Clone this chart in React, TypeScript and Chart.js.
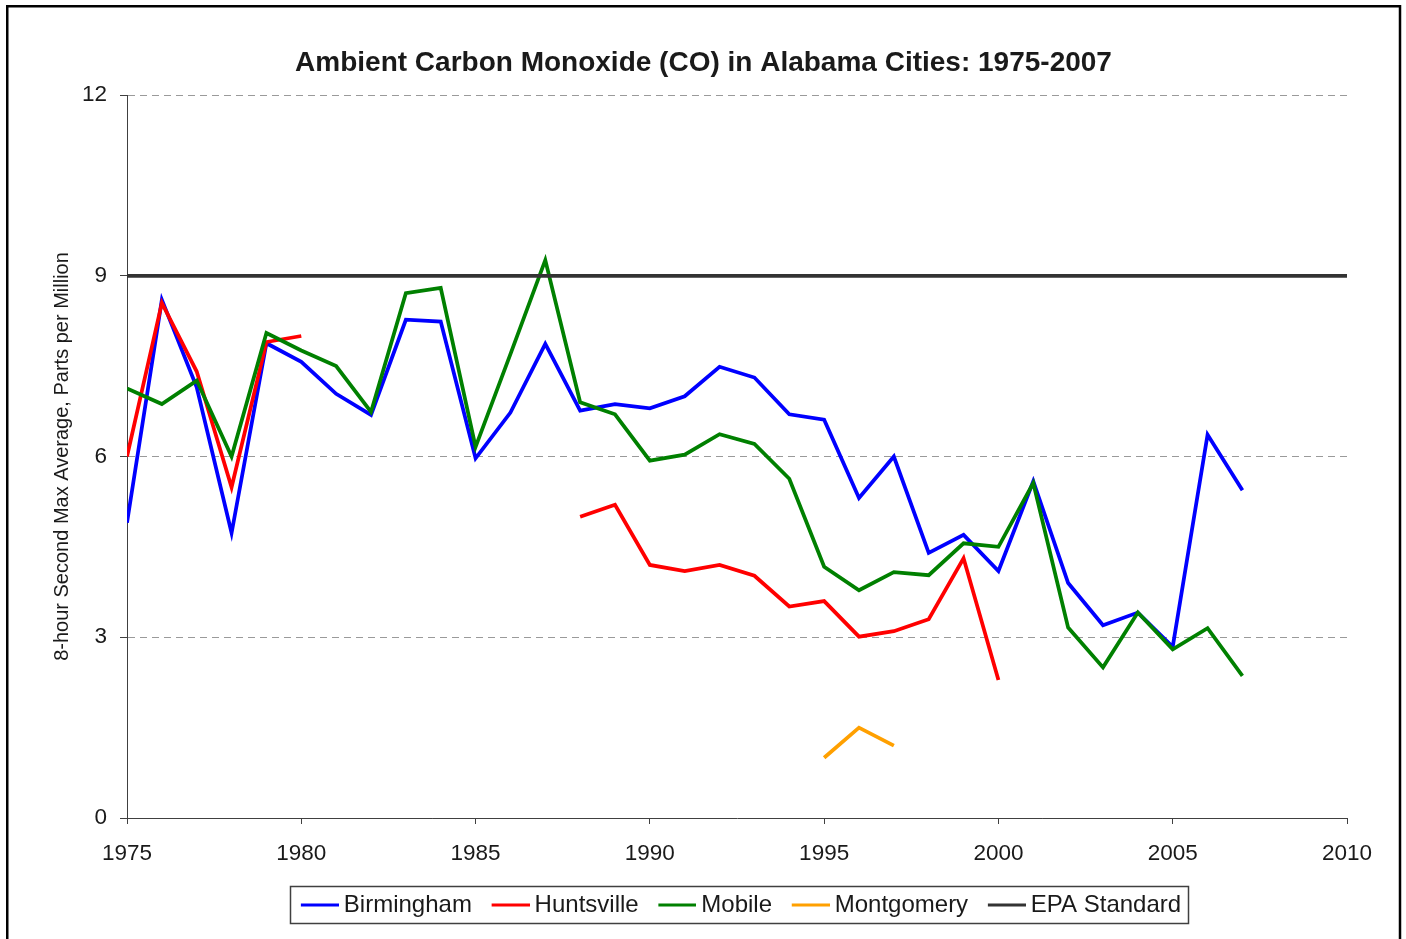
import React, { useEffect, useRef } from "react";
import { Chart, registerables } from "chart.js";

Chart.register(...registerables);

const FONT = "'Liberation Sans', Arial, sans-serif";

const chartTitle = "Ambient Carbon Monoxide (CO) in Alabama Cities: 1975-2007";
const yAxisTitle = "8-hour Second Max Average, Parts per Million";

const years = [
  1975, 1976, 1977, 1978, 1979, 1980, 1981, 1982, 1983, 1984, 1985,
  1986, 1987, 1988, 1989, 1990, 1991, 1992, 1993, 1994, 1995, 1996,
  1997, 1998, 1999, 2000, 2001, 2002, 2003, 2004, 2005, 2006, 2007,
];

const birmingham = [
  4.9, 8.6, 7.15, 4.73, 7.88, 7.57, 7.04, 6.69, 8.27, 8.24, 5.97,
  6.73, 7.87, 6.76, 6.87, 6.8, 7.0, 7.49, 7.31, 6.7, 6.61, 5.31,
  6.0, 4.4, 4.7, 4.1, 5.59, 3.9, 3.2, 3.41, 2.84, 6.36, 5.44,
];

const huntsville = [
  6.0, 8.55, 7.41, 5.49, 7.9, 8.0, null, null, null, null, null,
  null, null, 5.0, 5.2, 4.2, 4.1, 4.2, 4.02, 3.51, 3.6, 3.01,
  3.1, 3.3, 4.31, 2.29, null, null, null, null, null, null, null,
];

const mobile = [
  7.13, 6.87, 7.26, 6.0, 8.05, 7.76, 7.5, 6.74, 8.71, 8.8, 6.16,
  7.7, 9.26, 6.9, 6.7, 5.93, 6.03, 6.37, 6.21, 5.63, 4.17, 3.78,
  4.08, 4.03, 4.56, 4.5, 5.56, 3.16, 2.5, 3.41, 2.8, 3.15, 2.36,
];

const montgomery = [
  null, null, null, null, null, null, null, null, null, null, null,
  null, null, null, null, null, null, null, null, null, 1.0, 1.5,
  1.2, null, null, null, null, null, null, null, null, null, null,
];

const epaYears = [1975, 2010];
const epaStandard = [9, 9];

const xTickValues = [1975, 1980, 1985, 1990, 1995, 2000, 2005, 2010];
const yTickValues = [0, 3, 6, 9, 12];

const seriesNames = ["Birmingham", "Huntsville", "Mobile", "Montgomery", "EPA Standard"];
const seriesColors = ["#0000ff", "#ff0000", "#008000", "#ffa000", "#333333"];

const LEGEND_FONT = 24;
const LEGEND_BOX = 30;
const LEGEND_PAD = 20.7;

const toPoints = (xs: number[], vals: (number | null)[]) =>
  xs.map((x, i) => ({ x, y: vals[i] }));

// legend marker: a 38px line ending 5px before the label text
const makeMarker = (color: string) => {
  const c = document.createElement("canvas");
  c.width = 44;
  c.height = 4;
  const g = c.getContext("2d");
  if (g) {
    g.fillStyle = color;
    g.fillRect(6, 0.5, 38, 3);
  }
  return c;
};

const decorPlugin = {
  id: "decor",
  afterLayout(chart: any) {
    const lg = chart.legend;
    if (lg) {
      const dx = 741.5 - (lg.left + lg.right) / 2;
      lg.left += dx;
      lg.right += dx;
      const dy = 905 - LEGEND_FONT / 2 - LEGEND_PAD - lg.top;
      lg.top += dy;
      lg.bottom += dy;
    }
    const tb = chart.titleBlock;
    if (tb) {
      const dx = 703.5 - (tb.left + tb.right) / 2;
      tb.left += dx;
      tb.right += dx;
    }
  },
  beforeDraw(chart: any) {
    const ctx = chart.ctx;
    ctx.save();
    ctx.fillStyle = "#ffffff";
    ctx.fillRect(0, 0, chart.width, chart.height);
    ctx.strokeStyle = "#000000";
    ctx.lineWidth = 2.5;
    ctx.strokeRect(7.25, 6.25, 1392.75, 1000);
    ctx.restore();
  },
  afterDraw(chart: any) {
    const lg = chart.legend;
    if (!lg || !lg.lineWidths) return;
    const blockW = lg.lineWidths[0] - LEGEND_PAD;
    const cx = (lg.left + lg.right) / 2;
    const cy = lg.top + LEGEND_PAD + LEGEND_FONT / 2;
    const ctx = chart.ctx;
    ctx.save();
    ctx.strokeStyle = "#404040";
    ctx.lineWidth = 1.5;
    const x0 = Math.round(cx - blockW / 2 - 12) + 0.5;
    const x1 = Math.round(cx + blockW / 2 + 7) + 0.5;
    const y0 = Math.round(cy - 19) + 0.5;
    const y1 = Math.round(cy + 18) + 0.5;
    ctx.strokeRect(x0, y0, x1 - x0, y1 - y0);
    ctx.restore();
  },
};

export default function App() {
  const canvasRef = useRef<HTMLCanvasElement | null>(null);

  useEffect(() => {
    const canvas = canvasRef.current;
    if (!canvas) return;
    const markers = seriesColors.map(makeMarker);
    const seriesData = [
      toPoints(years, birmingham),
      toPoints(years, huntsville),
      toPoints(years, mobile),
      toPoints(years, montgomery),
      toPoints(epaYears, epaStandard),
    ];
    const datasets = seriesData.map((data, i) => ({
      label: seriesNames[i],
      data,
      borderColor: seriesColors[i],
      backgroundColor: seriesColors[i],
      borderWidth: 3.75,
      pointRadius: 0,
      pointHoverRadius: 0,
      tension: 0,
      spanGaps: false,
      order: seriesNames.length - i,
    }));

    const chart = new Chart(canvas, {
      type: "line",
      data: { datasets },
      plugins: [decorPlugin],
      options: {
        responsive: false,
        animation: false,
        devicePixelRatio: 1,
        layout: { padding: { left: 0, right: 59, top: 0, bottom: 16.9 } },
        plugins: {
          title: {
            display: true,
            text: chartTitle,
            color: "#1a1a1a",
            font: { family: FONT, size: 28, weight: "bold" },
            padding: { top: 46, bottom: 15.4 },
          },
          legend: {
            position: "bottom",
            labels: {
              color: "#1a1a1a",
              font: { family: FONT, size: LEGEND_FONT },
              usePointStyle: true,
              pointStyleWidth: LEGEND_BOX,
              boxWidth: LEGEND_BOX,
              boxHeight: 4,
              padding: LEGEND_PAD,
              sort: (a: any, b: any) => a.datasetIndex - b.datasetIndex,
              generateLabels: (c: any) =>
                (Chart.defaults.plugins.legend.labels as any)
                  .generateLabels(c)
                  .map((l: any) => ({
                    ...l,
                    lineWidth: 0,
                    pointStyle: markers[l.datasetIndex],
                    rotation: 0,
                  })),
            },
          },
          tooltip: { enabled: false },
        },
        scales: {
          x: {
            type: "linear",
            min: 1975,
            max: 2010,
            afterBuildTicks: (axis: any) => {
              axis.ticks = xTickValues.map((v) => ({ value: v }));
            },
            afterFit: (s: any) => {
              s.height = 49.4;
            },
            ticks: {
              callback: (v: any) => String(v),
              color: "#1a1a1a",
              font: { family: FONT, size: 22.5 },
              padding: 16.2,
              maxRotation: 0,
              autoSkip: false,
            },
            grid: {
              drawOnChartArea: false,
              drawTicks: true,
              tickLength: 6,
              tickColor: "#404040",
              tickWidth: 1,
              color: "#404040",
            },
            border: { display: true, color: "#404040", width: 1 },
          },
          y: {
            type: "linear",
            min: 0,
            max: 12,
            afterBuildTicks: (axis: any) => {
              axis.ticks = yTickValues.map((v) => ({ value: v }));
            },
            afterFit: (s: any) => {
              s.width = 127;
            },
            ticks: {
              callback: (v: any) => String(v),
              color: "#1a1a1a",
              font: { family: FONT, size: 22.5 },
              padding: 13,
            },
            grid: {
              color: "#9a9a9a",
              lineWidth: 1,
              drawTicks: true,
              tickLength: 7,
              tickColor: "#404040",
              tickWidth: 1,
              tickBorderDash: [],
            },
            border: { display: true, color: "#404040", width: 1, dash: [7, 5] },
            title: {
              display: true,
              text: yAxisTitle,
              color: "#1a1a1a",
              font: { family: FONT, size: 20 },
              padding: { top: 50, bottom: 0 },
            },
          },
        },
      } as any,
    });
    return () => chart.destroy();
  }, []);

  return (
    <div style={{ position: "fixed", left: 0, top: 0, width: 1406, height: 939, background: "#fff" }}>
      <canvas ref={canvasRef} width={1406} height={939} style={{ display: "block", width: 1406, height: 939 }} />
    </div>
  );
}
